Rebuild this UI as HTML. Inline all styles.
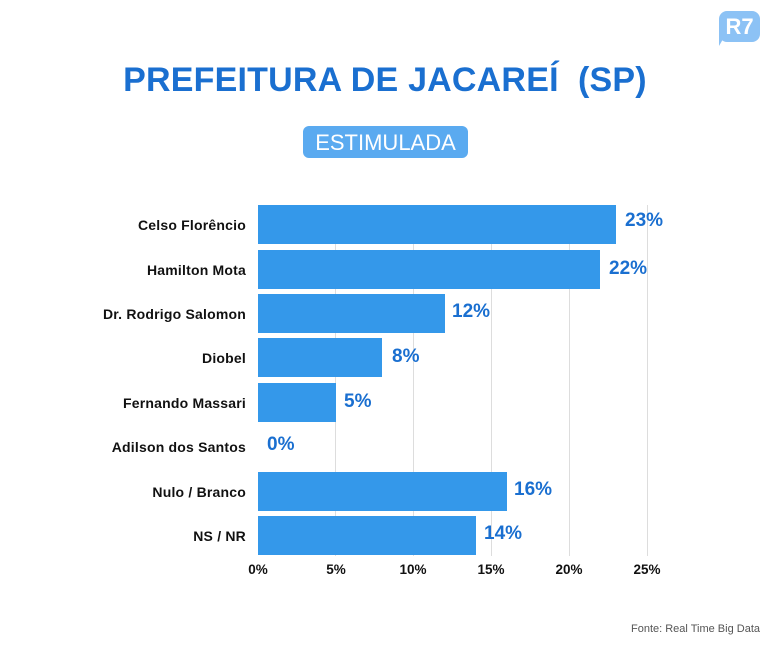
<!DOCTYPE html>
<html><head><meta charset="utf-8"><style>
body{margin:0;width:770px;height:650px;background:#fff;position:relative;font-family:"Liberation Sans",sans-serif;overflow:hidden}
.t{position:absolute;left:0;width:770px;top:61px;text-align:center;font-size:34px;font-weight:900;color:#1a6fd0;letter-spacing:0.2px}
.pill{position:absolute;left:303px;top:126px;width:165px;height:32px;background:#5aaaf0;border-radius:6px;color:#fff;font-size:22px;text-align:center;line-height:33px}
.g{position:absolute;top:205px;height:351px;width:1px;background:#ddd}
.b{position:absolute;left:258px;height:39px;background:#3498ea}
.l{position:absolute;right:524px;font-size:14px;font-weight:bold;color:#111;text-align:right;white-space:nowrap;letter-spacing:0.2px}
.v{position:absolute;font-size:19px;font-weight:900;color:#1a6fd0}
.x{position:absolute;top:562px;font-size:13.5px;font-weight:bold;color:#111;width:50px;margin-left:-25px;text-align:center}
.logo{position:absolute;left:719px;top:11px;width:41px;height:31px;background:#8cc2f5;border-radius:8px;color:#fff;font-weight:900;font-size:22px;text-align:center;line-height:31px}
.tail{position:absolute;left:719px;top:34px;width:0;height:0;border-left:7px solid #8cc2f5;border-bottom:12px solid transparent}
.f{position:absolute;right:10px;top:623px;font-size:11px;color:#555}
</style></head><body>
<div class="logo">R7</div><div class="tail"></div>
<div class="t">PREFEITURA DE JACAREÍ &nbsp;(SP)</div>
<div class="pill">ESTIMULADA</div>
<div class="g" style="left:335px"></div><div class="g" style="left:413px"></div><div class="g" style="left:491px"></div><div class="g" style="left:569px"></div><div class="g" style="left:647px"></div>
<div class="b" style="top:205px;width:358px"></div>
<div class="b" style="top:250px;width:342px"></div>
<div class="b" style="top:294px;width:187px"></div>
<div class="b" style="top:338px;width:124px"></div>
<div class="b" style="top:383px;width:78px"></div>
<div class="b" style="top:472px;width:249px"></div>
<div class="b" style="top:516px;width:218px"></div>
<div class="l" style="top:217px">Celso Florêncio</div>
<div class="l" style="top:262px">Hamilton Mota</div>
<div class="l" style="top:306px">Dr. Rodrigo Salomon</div>
<div class="l" style="top:350px">Diobel</div>
<div class="l" style="top:395px">Fernando Massari</div>
<div class="l" style="top:439px">Adilson dos Santos</div>
<div class="l" style="top:484px">Nulo / Branco</div>
<div class="l" style="top:528px">NS / NR</div>
<div class="v" style="left:625px;top:210px">23%</div>
<div class="v" style="left:609px;top:258px">22%</div>
<div class="v" style="left:452px;top:301px">12%</div>
<div class="v" style="left:392px;top:346px">8%</div>
<div class="v" style="left:344px;top:391px">5%</div>
<div class="v" style="left:267px;top:434px">0%</div>
<div class="v" style="left:514px;top:479px">16%</div>
<div class="v" style="left:484px;top:523px">14%</div>
<div class="x" style="left:258px">0%</div><div class="x" style="left:336px">5%</div><div class="x" style="left:413px">10%</div><div class="x" style="left:491px">15%</div><div class="x" style="left:569px">20%</div><div class="x" style="left:647px">25%</div>
<div class="f">Fonte: Real Time Big Data</div>
</body></html>
